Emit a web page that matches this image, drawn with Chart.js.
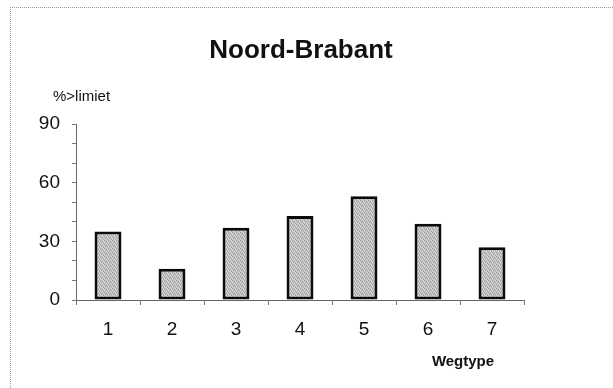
<!DOCTYPE html>
<html>
<head>
<meta charset="utf-8">
<script src="https://cdn.jsdelivr.net/npm/chart.js@4.4.1/dist/chart.umd.min.js"></script>
<style>
  html, body { margin: 0; padding: 0; background: #fff; overflow: hidden; }
  #wrap { position: relative; width: 613px; height: 388px; overflow: hidden; }
  #frame { position: absolute; left: 10px; top: 7px; width: 700px; height: 500px;
           border-top: 1px dotted #9a9a9a; border-left: 1px dotted #9a9a9a; }
  canvas { position: absolute; left: 0; top: 0; }
</style>
</head>
<body>
<div id="wrap">
  <div id="frame"></div>
  <canvas id="c" width="613" height="388"></canvas>
</div>
<script>
// Road types and share of measurements above the limit (%)
const categories = ['1', '2', '3', '4', '5', '6', '7'];
const percentAboveLimit = [35, 16, 37, 43, 53, 39, 27];
const yTickLabels = [0, 30, 60, 90];

const chartTitle = 'Noord-Brabant';
const yAxisTitle = '%>limiet';
const xAxisTitle = 'Wegtype';

const FONT = '"Liberation Sans", Arial, sans-serif';

// Stippled grey fill for the bars
function stipple() {
  const p = document.createElement('canvas');
  p.width = 4; p.height = 4;
  const g = p.getContext('2d');
  g.fillStyle = '#c4c4c4';
  g.fillRect(0, 0, 4, 4);
  g.fillStyle = '#9c9c9c';
  [[0,0],[2,1],[1,2],[3,3]].forEach(([x, y]) => g.fillRect(x, y, 1, 1));
  g.fillStyle = '#dedede';
  [[2,3],[0,2],[3,0]].forEach(([x, y]) => g.fillRect(x, y, 1, 1));
  return g.createPattern(p, 'repeat');
}

const ctx = document.getElementById('c').getContext('2d');

const textPlugin = {
  id: 'texts',
  afterDraw(chart) {
    const c = chart.ctx;
    c.save();
    c.fillStyle = '#111';
    c.textAlign = 'center';
    c.textBaseline = 'alphabetic';
    c.font = 'bold 26px ' + FONT;
    c.fillText(chartTitle, 301, 58);
    c.textAlign = 'left';
    c.font = '15px ' + FONT;
    c.fillText(yAxisTitle, 53, 101);
    c.textAlign = 'center';
    c.font = 'bold 15px ' + FONT;
    c.fillText(xAxisTitle, 463, 366);
    c.restore();
  }
};

new Chart(ctx, {
  type: 'bar',
  data: {
    labels: categories,
    datasets: [{
      data: percentAboveLimit,
      backgroundColor: stipple(),
      borderColor: '#0a0a0a',
      borderWidth: 3,
      borderSkipped: false,
      barPercentage: 0.42,
      categoryPercentage: 1.0
    }]
  },
  options: {
    responsive: false,
    animation: false,
    events: [],
    layout: { padding: { left: 0, top: 124, right: 89, bottom: 0 } },
    plugins: {
      legend: { display: false },
      title: { display: false },
      tooltip: { enabled: false }
    },
    scales: {
      x: {
        offset: true,
        afterFit(s) { s.height = 88; },
        grid: {
          offset: true,
          drawOnChartArea: false,
          drawTicks: true,
          tickLength: 5,
          color: '#777'
        },
        border: { display: true, color: '#666', width: 1 },
        ticks: {
          color: '#111',
          padding: 13,
          autoSkip: false,
          maxRotation: 0,
          font: { family: FONT, size: 19 }
        }
      },
      y: {
        min: 0,
        max: 90,
        afterFit(s) { s.width = 76; },
        grid: {
          drawOnChartArea: false,
          drawTicks: true,
          tickLength: 4,
          color: '#777'
        },
        border: { display: true, color: '#666', width: 1 },
        ticks: {
          stepSize: 10,
          autoSkip: false,
          color: '#111',
          padding: 12,
          font: { family: FONT, size: 19 },
          callback: (v) => yTickLabels.includes(v) ? String(v) : ''
        }
      }
    }
  },
  plugins: [textPlugin]
});
</script>
</body>
</html>
